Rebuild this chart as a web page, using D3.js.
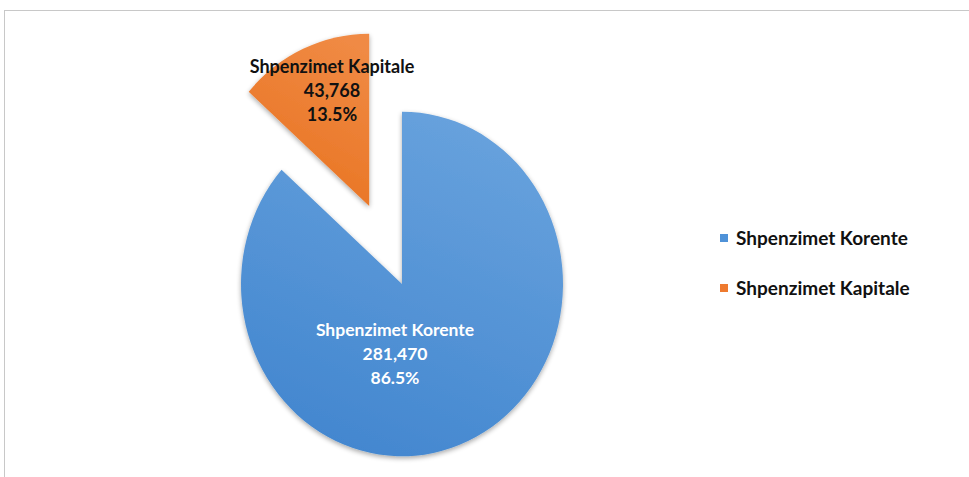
<!DOCTYPE html>
<html>
<head>
<meta charset="utf-8">
<script src="https://cdn.jsdelivr.net/npm/d3@7"></script>
<style>
  html, body { margin: 0; padding: 0; background: #fff; }
  svg { display: block; }
</style>
</head>
<body>
<svg id="chart" width="969" height="477"></svg>
<script>
// Budget expenditure split
const categories = ["Shpenzimet Korente", "Shpenzimet Kapitale"];
const values = [281470, 43768];
const colors = ["#4f92d8", "#ee7a2f"];
const labelColors = ["#ffffff", "#111111"];
const explode = [0, 80];

const svg = d3.select("#chart");
const W = 969, H = 477;

// Chart frame
svg.append("rect")
  .attr("x", 4.5).attr("y", 10.5)
  .attr("width", W + 10).attr("height", H + 10)
  .attr("fill", "#fff").attr("stroke", "#c8c8c8").attr("stroke-width", 1);

const defs = svg.append("defs");
const shadow = defs.append("filter").attr("id", "shadow")
  .attr("x", "-20%").attr("y", "-20%").attr("width", "140%").attr("height", "140%");
shadow.append("feGaussianBlur").attr("in", "SourceAlpha").attr("stdDeviation", 2.5);
shadow.append("feOffset").attr("dx", 0).attr("dy", 2).attr("result", "ob");
shadow.append("feComponentTransfer").append("feFuncA").attr("type", "linear").attr("slope", 0.35);
const merge = shadow.append("feMerge");
merge.append("feMergeNode");
merge.append("feMergeNode").attr("in", "SourceGraphic");

const blueGrad = defs.append("linearGradient").attr("id", "g0")
  .attr("x1", "0.7").attr("y1", "0").attr("x2", "0.3").attr("y2", "1");
blueGrad.append("stop").attr("offset", "0").attr("stop-color", "#68a2dd");
blueGrad.append("stop").attr("offset", "1").attr("stop-color", "#4286cf");
const orGrad = defs.append("linearGradient").attr("id", "g1")
  .attr("x1", "0.7").attr("y1", "0").attr("x2", "0.3").attr("y2", "1");
orGrad.append("stop").attr("offset", "0").attr("stop-color", "#f08a44");
orGrad.append("stop").attr("offset", "1").attr("stop-color", "#e8721f");
const fills = ["url(#g0)", "url(#g1)"];

const cx = 402, cy = 284, R = 161, sy = 1.07;
const total = d3.sum(values);
const data = categories.map((c, i) => ({ name: c, value: values[i], i }));

const pie = d3.pie().sort(null).value(d => d.value);
const arc = d3.arc().innerRadius(0).outerRadius(R);
const arcs = pie(data);

const g = svg.append("g").attr("transform", `translate(${cx},${cy}) scale(1,${sy})`);

g.selectAll("path.slice").data(arcs).join("path")
  .attr("class", "slice")
  .attr("d", arc)
  .attr("fill", d => fills[d.data.i])
  .attr("filter", "url(#shadow)")
  .attr("transform", d => {
    const a = (d.startAngle + d.endAngle) / 2;
    const e = explode[d.data.i];
    return `translate(${Math.sin(a) * e},${-Math.cos(a) * e})`;
  });

// Data labels
const fmt = d3.format(",");
const pct = d3.format(".1%");
const labelPos = [
  { x: 395, y: 330, size: 17.5 },
  { x: 332, y: 67, size: 18 }
];
arcs.forEach(d => {
  const i = d.data.i;
  const t = svg.append("text")
    .attr("x", labelPos[i].x).attr("y", labelPos[i].y)
    .attr("text-anchor", "middle")
    .attr("font-family", "Lato, 'Open Sans', sans-serif")
    .attr("font-weight", "bold").attr("font-size", labelPos[i].size)
    .attr("fill", labelColors[i]);
  [d.data.name, fmt(d.data.value), pct(d.data.value / total)].forEach((s, k) => {
    t.append("tspan").attr("x", labelPos[i].x)
      .attr("dy", k === 0 ? "0.35em" : 24).text(s);
  });
});

// Legend
const legend = svg.append("g").attr("transform", "translate(720,238)");
categories.forEach((c, i) => {
  const row = legend.append("g").attr("transform", `translate(0,${i * 50})`);
  row.append("rect").attr("x", 0).attr("y", -4).attr("width", 8).attr("height", 8)
    .attr("fill", colors[i]);
  row.append("text").attr("x", 16).attr("y", 0).attr("dy", "0.35em")
    .attr("font-family", "Lato, 'Open Sans', sans-serif")
    .attr("font-weight", "bold").attr("font-size", 19)
    .attr("fill", "#111").text(c);
});
</script>
</body>
</html>
